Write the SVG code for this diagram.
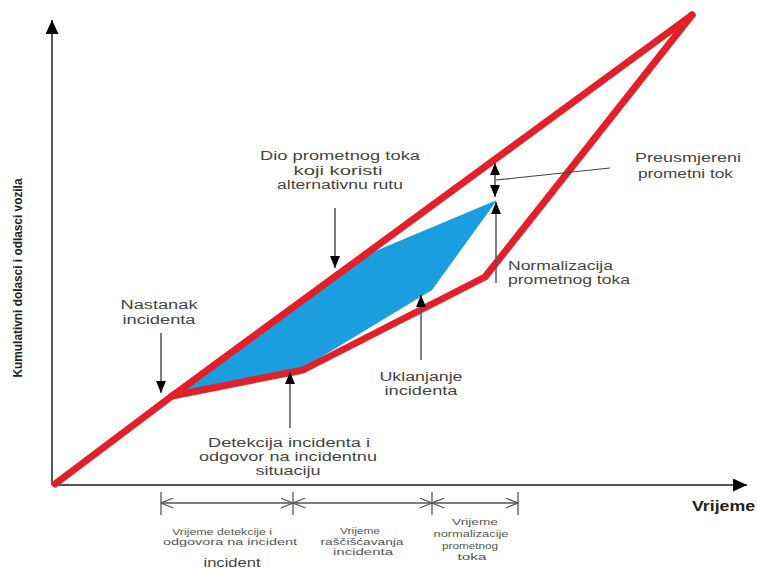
<svg xmlns="http://www.w3.org/2000/svg" width="757" height="570" viewBox="0 0 757 570">
<style>
.lbl{font-family:"Liberation Sans",Arial,sans-serif;font-size:12.5px;fill:#444}
.sm{font-family:"Liberation Sans",Arial,sans-serif;font-size:9.5px;fill:#555}
.mid{text-anchor:middle}
.axis{stroke:#555;stroke-width:2;fill:none}
.ptr{stroke:#555;stroke-width:1.5;fill:none}
.dim{stroke:#555;stroke-width:1.3;fill:none}
.red{stroke:#e3202a;stroke-width:7;fill:none;stroke-linejoin:round;stroke-linecap:round}
</style>
<defs>
<marker id="ah" viewBox="0 0 12 10" refX="12" refY="5" markerWidth="12" markerHeight="10" markerUnits="userSpaceOnUse" orient="auto-start-reverse">
<path d="M0,0 L12,5 L0,10 z" fill="#000"/>
</marker>
<marker id="big" viewBox="0 0 14 13" refX="14" refY="6.5" markerWidth="14" markerHeight="13" markerUnits="userSpaceOnUse" orient="auto">
<path d="M0,0 L14,6.5 L0,13 z" fill="#000"/>
</marker>
<marker id="oh" viewBox="0 0 13 11" refX="12.5" refY="5.5" markerWidth="13" markerHeight="11" markerUnits="userSpaceOnUse" orient="auto-start-reverse">
<path d="M0,0.5 L12.5,5.5 L0,10.5" fill="none" stroke="#555" stroke-width="1.2"/>
</marker>
</defs>
<rect width="757" height="570" fill="#fff"/>

<g id="axes">
<line class="axis" x1="52" y1="485" x2="52" y2="20" marker-end="url(#big)"/>
<line class="axis" x1="52" y1="485" x2="747" y2="485" marker-end="url(#big)"/>
</g>

<g id="queue-area">
<polygon points="176,393 373,252 497,200 432,290 303,368" fill="#1a9ee0"/>
</g>

<g id="curves">
<polyline class="red" points="55,484 172,396 692,15"/>
<polyline class="red" points="172,396 303,370 485,277 692,15"/>
</g>

<g id="connectors">
<line class="ptr" x1="161" y1="333" x2="161" y2="393" marker-end="url(#ah)"/>
<line class="ptr" x1="290" y1="428" x2="290" y2="372" marker-end="url(#ah)"/>
<line class="ptr" x1="335" y1="208" x2="335" y2="268" marker-end="url(#ah)"/>
<line class="ptr" x1="421" y1="360" x2="421" y2="295" marker-end="url(#ah)"/>
<line class="ptr" x1="495" y1="163" x2="495" y2="197" marker-start="url(#ah)" marker-end="url(#ah)"/>
<line class="ptr" x1="496" y1="283" x2="496" y2="202" marker-end="url(#ah)"/>
<line stroke="#444" stroke-width="1.2" x1="496" y1="180" x2="610" y2="168"/>
</g>

<g id="dimensions">
<line class="dim" x1="161" y1="492" x2="161" y2="515"/>
<line class="dim" x1="293" y1="492" x2="293" y2="515"/>
<line class="dim" x1="432" y1="492" x2="432" y2="515"/>
<line class="dim" x1="518" y1="492" x2="518" y2="515"/>
<line class="dim" x1="161" y1="503" x2="293" y2="503" marker-start="url(#oh)" marker-end="url(#oh)"/>
<line class="dim" x1="293" y1="503" x2="432" y2="503" marker-start="url(#oh)" marker-end="url(#oh)"/>
<line class="dim" x1="432" y1="503" x2="518" y2="503" marker-start="url(#oh)" marker-end="url(#oh)"/>
</g>

<g id="y-label">
<text transform="translate(22,278) rotate(-90)" text-anchor="middle" font-family="'Liberation Sans Narrow','Liberation Sans',Arial,sans-serif" font-size="13" font-weight="bold" fill="#222" textLength="199" lengthAdjust="spacingAndGlyphs">Kumulativni dolasci i odlasci vozila</text>
</g>

<g id="x-label">
<text x="692" y="511" font-family="'Liberation Sans',Arial,sans-serif" font-size="14" font-weight="bold" fill="#222" textLength="63" lengthAdjust="spacingAndGlyphs">Vrijeme</text>
</g>

<g id="node-dio">
<text class="lbl mid" x="340" y="160" textLength="160" lengthAdjust="spacingAndGlyphs">Dio prometnog toka</text>
<text class="lbl mid" x="338" y="175" textLength="89" lengthAdjust="spacingAndGlyphs">koji koristi</text>
<text class="lbl mid" x="340" y="189" textLength="126" lengthAdjust="spacingAndGlyphs">alternativnu rutu</text>
</g>

<g id="node-preusmjereni">
<text class="lbl" x="635" y="162" textLength="106" lengthAdjust="spacingAndGlyphs">Preusmjereni</text>
<text class="lbl" x="638" y="178" textLength="95" lengthAdjust="spacingAndGlyphs">prometni tok</text>
</g>

<g id="node-normalizacija">
<text class="lbl" x="508" y="270" textLength="105" lengthAdjust="spacingAndGlyphs">Normalizacija</text>
<text class="lbl" x="508" y="284" textLength="122" lengthAdjust="spacingAndGlyphs">prometnog toka</text>
</g>

<g id="node-nastanak">
<text class="lbl mid" x="159" y="309" textLength="77" lengthAdjust="spacingAndGlyphs">Nastanak</text>
<text class="lbl mid" x="159" y="324" textLength="73" lengthAdjust="spacingAndGlyphs">incidenta</text>
</g>

<g id="node-detekcija">
<text class="lbl mid" x="289" y="447" textLength="162" lengthAdjust="spacingAndGlyphs">Detekcija incidenta i</text>
<text class="lbl mid" x="288" y="461" textLength="178" lengthAdjust="spacingAndGlyphs">odgovor na incidentnu</text>
<text class="lbl mid" x="288" y="475" textLength="65" lengthAdjust="spacingAndGlyphs">situaciju</text>
</g>

<g id="node-uklanjanje">
<text class="lbl mid" x="421" y="381" textLength="83" lengthAdjust="spacingAndGlyphs">Uklanjanje</text>
<text class="lbl mid" x="421" y="395" textLength="73" lengthAdjust="spacingAndGlyphs">incidenta</text>
</g>

<g id="span-detekcija">
<text class="sm mid" x="222" y="535" textLength="100" lengthAdjust="spacingAndGlyphs">Vrijeme detekcije i</text>
<text class="sm mid" x="230" y="545" textLength="134" lengthAdjust="spacingAndGlyphs">odgovora na incident</text>
<text class="mid" x="232" y="567" font-family="'Liberation Sans',Arial,sans-serif" font-size="12" fill="#444" textLength="57" lengthAdjust="spacingAndGlyphs">incident</text>
</g>

<g id="span-rasciscavanje">
<text class="sm mid" x="360" y="534" textLength="40" lengthAdjust="spacingAndGlyphs">Vrijeme</text>
<text class="sm mid" x="362" y="545" textLength="83" lengthAdjust="spacingAndGlyphs">raščišćavanja</text>
<text class="sm mid" x="363" y="555" textLength="60" lengthAdjust="spacingAndGlyphs">incidenta</text>
</g>

<g id="span-normalizacija">
<text class="sm mid" x="475" y="525" textLength="46" lengthAdjust="spacingAndGlyphs">Vrijeme</text>
<text class="sm mid" x="471" y="537" textLength="75" lengthAdjust="spacingAndGlyphs">normalizacije</text>
<text class="sm mid" x="470" y="549" textLength="56" lengthAdjust="spacingAndGlyphs">prometnog</text>
<text class="sm mid" x="472" y="560" textLength="29" lengthAdjust="spacingAndGlyphs">toka</text>
</g>
</svg>
